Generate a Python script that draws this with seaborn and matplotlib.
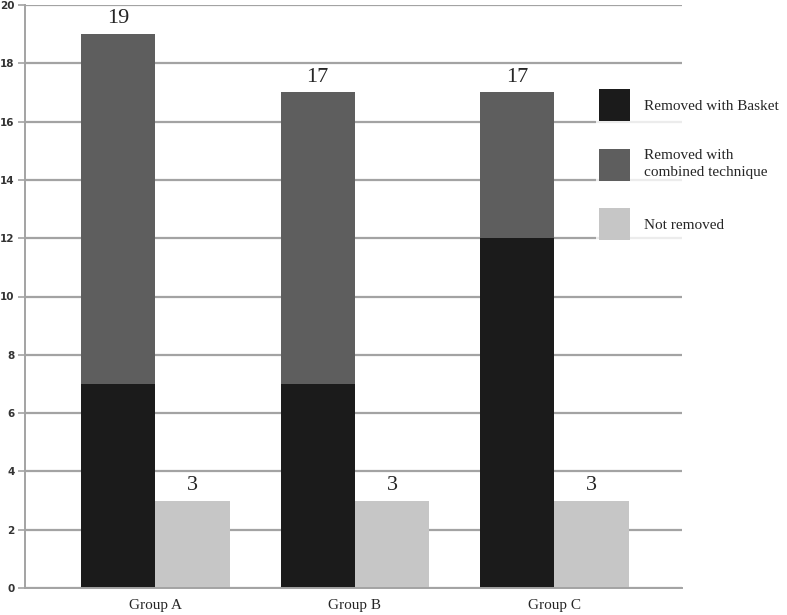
import pandas as pd
import seaborn as sns
import matplotlib.pyplot as plt
from matplotlib.patches import Patch

groups = ["Group A", "Group B", "Group C"]
basket = [7, 7, 12]
combined = [12, 10, 5]
not_removed = [3, 3, 3]
series_names = ["Removed with Basket", "Removed with\ncombined technique", "Not removed"]

totals = [b + c for b, c in zip(basket, combined)]

dark, mid, light = "#1b1b1b", "#5e5e5e", "#c6c6c6"
grid_col = "#a3a3a3"
serif = ["Liberation Serif", "DejaVu Serif"]

# left slot = removed (stacked), right slot = not removed
df_back = pd.DataFrame({
    "group": groups * 2,
    "slot": ["removed"] * 3 + ["not"] * 3,
    "value": totals + not_removed,
})
df_front = pd.DataFrame({"group": groups, "slot": ["removed"] * 3, "value": basket})

sns.set_style("white")
fig = plt.figure(figsize=(7.87, 6.15), dpi=100)
ax = fig.add_axes([25 / 787, 1 - 588 / 615, 657 / 787, 583 / 615])

common = dict(x="group", y="value", hue="slot", hue_order=["removed", "not"],
              order=groups, width=0.746, gap=0, dodge=True, saturation=1,
              legend=False, errorbar=None, linewidth=0, ax=ax)
sns.barplot(df_back, palette={"removed": mid, "not": light}, **common)
sns.barplot(df_front, palette={"removed": dark, "not": light}, **common)

ax.set_xlim(-0.654, 2.64)
ax.set_ylim(0, 20)
ax.set_yticks(range(0, 21, 2))
ax.yaxis.grid(True, color=grid_col, linewidth=1.6)
ax.set_axisbelow(True)
for s in ["top", "right"]:
    ax.spines[s].set_visible(False)
for s in ["left", "bottom"]:
    ax.spines[s].set_color(grid_col)
    ax.spines[s].set_linewidth(1.4)
ax.tick_params(axis="y", left=True, length=5, width=1.2, color=grid_col, pad=2.5,
               labelsize=7.5, labelcolor="#333333")
for lbl in ax.get_yticklabels():
    lbl.set_fontweight("bold")
ax.tick_params(axis="x", bottom=False, pad=4.5)
ax.set_xticks(range(len(groups)))
ax.set_xticklabels(groups, family=serif, fontsize=11)
ax.set_xlabel("")
ax.set_ylabel("")

off = 0.1865
for i in range(len(groups)):
    ax.text(i - off, totals[i] + 0.2, str(totals[i]), ha="center", va="bottom",
            family=serif, fontsize=16)
    ax.text(i + off, not_removed[i] + 0.2, str(not_removed[i]), ha="center", va="bottom",
            family=serif, fontsize=16)

handles = [Patch(facecolor=c, edgecolor="none") for c in (dark, mid, light)]
leg = fig.legend(handles, series_names, loc="upper left",
                 bbox_to_anchor=(596 / 787, 1 - 86 / 615), frameon=True,
                 prop={"family": serif, "size": 11}, handlelength=2.03,
                 handleheight=2.85, handletextpad=0.9, labelspacing=1.8,
                 borderpad=0.2, borderaxespad=0)
leg.get_frame().set_facecolor("white")
leg.get_frame().set_edgecolor("none")
leg.get_texts()[1].set_linespacing(1.35)

fig.savefig("out.png", dpi=100, facecolor="white")
